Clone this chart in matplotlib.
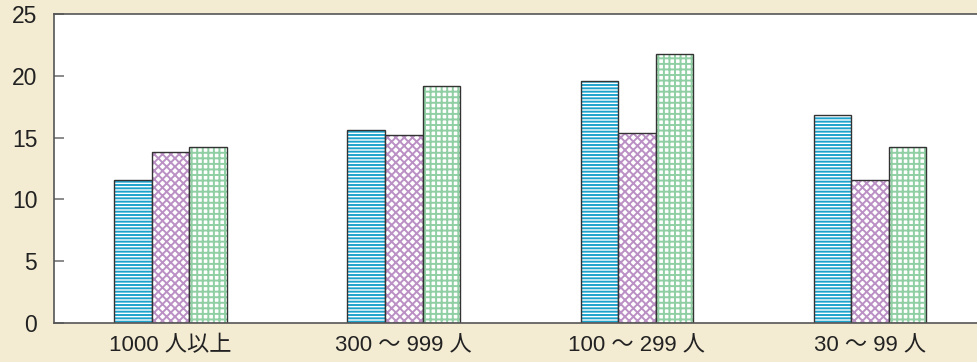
import matplotlib.pyplot as plt
import numpy as np

plt.rcParams['font.family'] = ['Liberation Sans', 'Noto Sans CJK JP', 'DejaVu Sans']
plt.rcParams['hatch.linewidth'] = 1.4

categories = ["1000 人以上", "300 ～ 999 人", "100 ～ 299 人", "30 ～ 99 人"]
series_a = [11.6, 15.6, 19.6, 16.8]   # 水色（波模様）
series_b = [13.8, 15.2, 15.4, 11.6]   # 紫（斜め格子）
series_c = [14.2, 19.2, 21.8, 14.2]   # 緑（格子）

bg = "#f3ecd3"
fig = plt.figure(figsize=(9.77, 3.62), dpi=100, facecolor=bg)
ax = fig.add_axes([54 / 977, 39 / 362, 1 - 54 / 977 + 0.01, 309 / 362])

x = np.arange(len(categories))
w = 0.161
styles = [(series_a, "#1ea3cc", "-----"), (series_b, "#bb90c4", "xxxx"), (series_c, "#8fcfa3", "+++")]
for i, (vals, col, hatch) in enumerate(styles):
    pos = x + (i - 1) * w
    # hatch first, outline on top
    ax.bar(pos, vals, w, color="white", edgecolor=col, hatch=hatch, linewidth=0)
    ax.bar(pos, vals, w, fill=False, edgecolor="#333333", linewidth=1.0)

ax.set_xlim(-0.5, 3.5)
ax.set_ylim(0, 25)
ax.set_yticks([0, 5, 10, 15, 20, 25])
ax.set_xticks(x)
ax.set_xticklabels(categories)

for s in ["left", "bottom", "top"]:
    ax.spines[s].set_color("#555555")
    ax.spines[s].set_linewidth(1.2)
ax.spines["right"].set_visible(False)

ax.tick_params(axis="y", direction="in", length=7, width=1.2, color="#777777",
               labelsize=16.5, pad=12, labelcolor="#222222")
ax.tick_params(axis="x", length=0, labelsize=16, pad=9, labelcolor="#222222")

plt.savefig("out.png", dpi=100, facecolor=bg)
